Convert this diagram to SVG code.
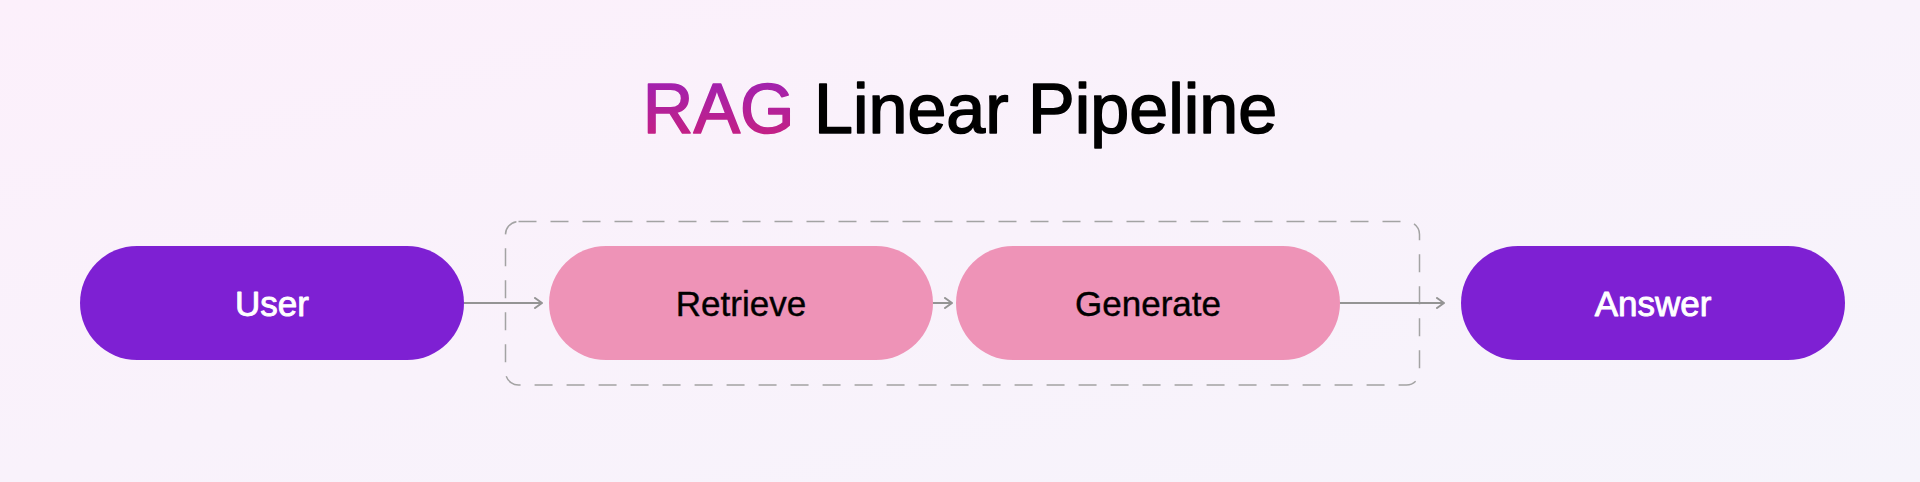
<svg xmlns="http://www.w3.org/2000/svg" width="1920" height="482" viewBox="0 0 1920 482">
  <defs>
    <linearGradient id="bg" x1="0" y1="0" x2="1" y2="1">
      <stop offset="0" stop-color="#fcf0fb"/>
      <stop offset="1" stop-color="#f6f4fb"/>
    </linearGradient>
    <linearGradient id="ragGrad" x1="0" y1="0" x2="0" y2="1">
      <stop offset="0" stop-color="#9a22b8"/>
      <stop offset="1" stop-color="#cc1f7a"/>
    </linearGradient>
    <marker id="arrow" viewBox="0 0 10 12" refX="9" refY="6" markerWidth="10" markerHeight="12" markerUnits="userSpaceOnUse" orient="auto">
      <path d="M2,1 L9,6 L2,11" fill="none" stroke="#949494" stroke-width="2" stroke-linecap="round" stroke-linejoin="round"/>
    </marker>
  </defs>
  <style>
    text { font-family: "Liberation Sans", Arial, Helvetica, sans-serif; }
    .title { font-size: 70px; fill: #000; stroke: #000; stroke-width: 1.6; stroke-linejoin: round; }
    .rag { fill: url(#ragGrad); stroke: url(#ragGrad); }
    .purple { fill: #7e20d3; }
    .pink { fill: #ee93b7; }
    .lbl { font-size: 35px; text-anchor: middle; stroke-linejoin: round; }
    .lbl-w { fill: #ffffff; stroke: #ffffff; stroke-width: 0.9; }
    .lbl-b { fill: #000000; stroke: #000000; stroke-width: 0.4; }
    .conn { stroke: #949494; stroke-width: 2; fill: none; }
    .group { fill: none; stroke: #a3a3a3; stroke-width: 1.5; stroke-dasharray: 18 14; }
  </style>
  <rect x="0" y="0" width="1920" height="482" fill="url(#bg)"/>

  <text class="title" x="960" y="133" text-anchor="middle"><tspan class="rag">RAG</tspan> Linear Pipeline</text>

  <g id="stage-group">
    <rect class="group" x="505.5" y="221.5" width="914" height="163.5" rx="13" ry="13"/>
  </g>

  <g id="connectors">
    <line class="conn" x1="464" y1="303" x2="542" y2="303" marker-end="url(#arrow)"/>
    <line class="conn" x1="933" y1="303" x2="952" y2="303" marker-end="url(#arrow)"/>
    <line class="conn" x1="1340" y1="303" x2="1444" y2="303" marker-end="url(#arrow)"/>
  </g>

  <g id="node-user">
    <rect class="purple" x="80" y="246" width="384" height="114" rx="57" ry="57"/>
    <text class="lbl lbl-w" x="272" y="316">User</text>
  </g>
  <g id="node-retrieve">
    <rect class="pink" x="549" y="246" width="384" height="114" rx="57" ry="57"/>
    <text class="lbl lbl-b" x="741" y="316">Retrieve</text>
  </g>
  <g id="node-generate">
    <rect class="pink" x="956" y="246" width="384" height="114" rx="57" ry="57"/>
    <text class="lbl lbl-b" x="1148" y="316">Generate</text>
  </g>
  <g id="node-answer">
    <rect class="purple" x="1461" y="246" width="384" height="114" rx="57" ry="57"/>
    <text class="lbl lbl-w" x="1653" y="316">Answer</text>
  </g>
</svg>
